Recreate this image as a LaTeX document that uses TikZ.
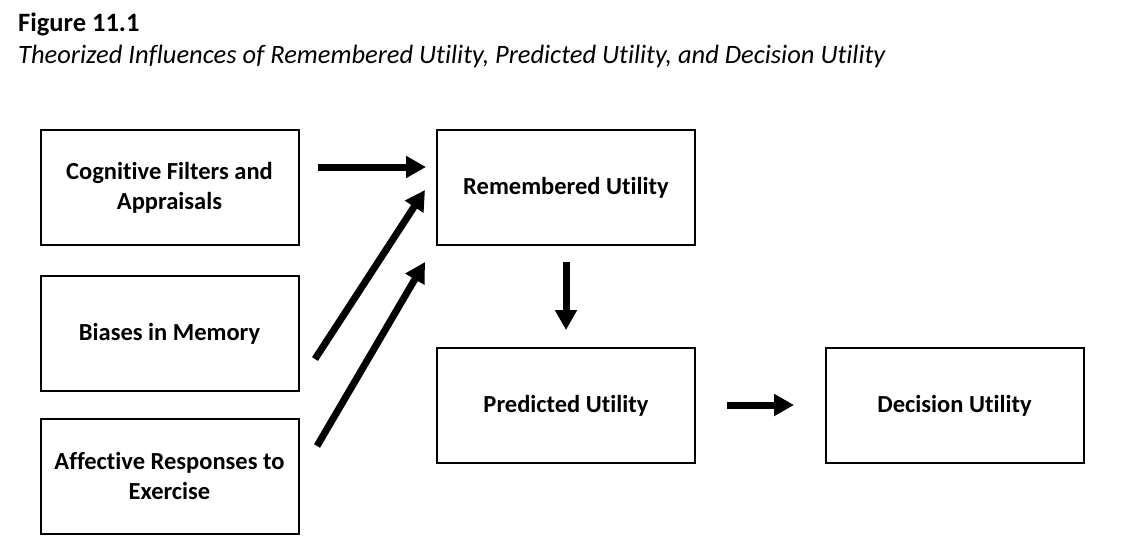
\documentclass[tikz,border=0pt]{standalone}
\usepackage{fontspec}
\setmainfont{Carlito}[Ligatures=NoCommon]
\usetikzlibrary{arrows.meta}
\begin{document}
\begin{tikzpicture}[x=1pt,y=-1pt,
  box/.style={draw, line width=2pt, minimum width=258pt, minimum height=115pt, align=center, font=\fontsize{24.5}{30}\selectfont\bfseries, inner sep=0pt},
  bigarrow/.style={line width=7pt, -{Triangle[width=21pt,length=20pt]}}]
\useasboundingbox (0,0) rectangle (1125,557);
\node[anchor=base west, inner sep=0pt, font=\fontsize{26.5}{30}\selectfont\bfseries] (fig) at (18,31) {Figure 11.1};
\node[anchor=base west, inner sep=0pt, font=\fontsize{26.5}{30}\selectfont\itshape] (cap) at (18,63) {Theorized Influences of Remembered Utility, Predicted Utility, and Decision Utility};
\node[box] (cog) at (169.5,187.5) {Cognitive Filters and\\Appraisals};
\node[box] (bias) at (169.5,333.5) {Biases in Memory};
\node[box] (aff) at (169.5,476) {Affective Responses to\\Exercise};
\node[box] (rem) at (566,187.5) {Remembered Utility};
\node[box] (pred) at (566,405.5) {Predicted Utility};
\node[box] (dec) at (954.5,405.5) {Decision Utility};
\coordinate (a1s) at (318,167); \coordinate (a1e) at (426,167);
\coordinate (a2s) at (315,359); \coordinate (a2e) at (425,190);
\coordinate (a3s) at (317,446); \coordinate (a3e) at (425,262);
\coordinate (a4s) at (566,262); \coordinate (a4e) at (566,330);
\coordinate (a5s) at (727,405); \coordinate (a5e) at (794,405);
\draw[bigarrow] (a1s) -- (a1e);
\draw[bigarrow] (a2s) -- (a2e);
\draw[bigarrow] (a3s) -- (a3e);
\draw[bigarrow] (a4s) -- (a4e);
\draw[bigarrow] (a5s) -- (a5e);
\end{tikzpicture}
\end{document}
